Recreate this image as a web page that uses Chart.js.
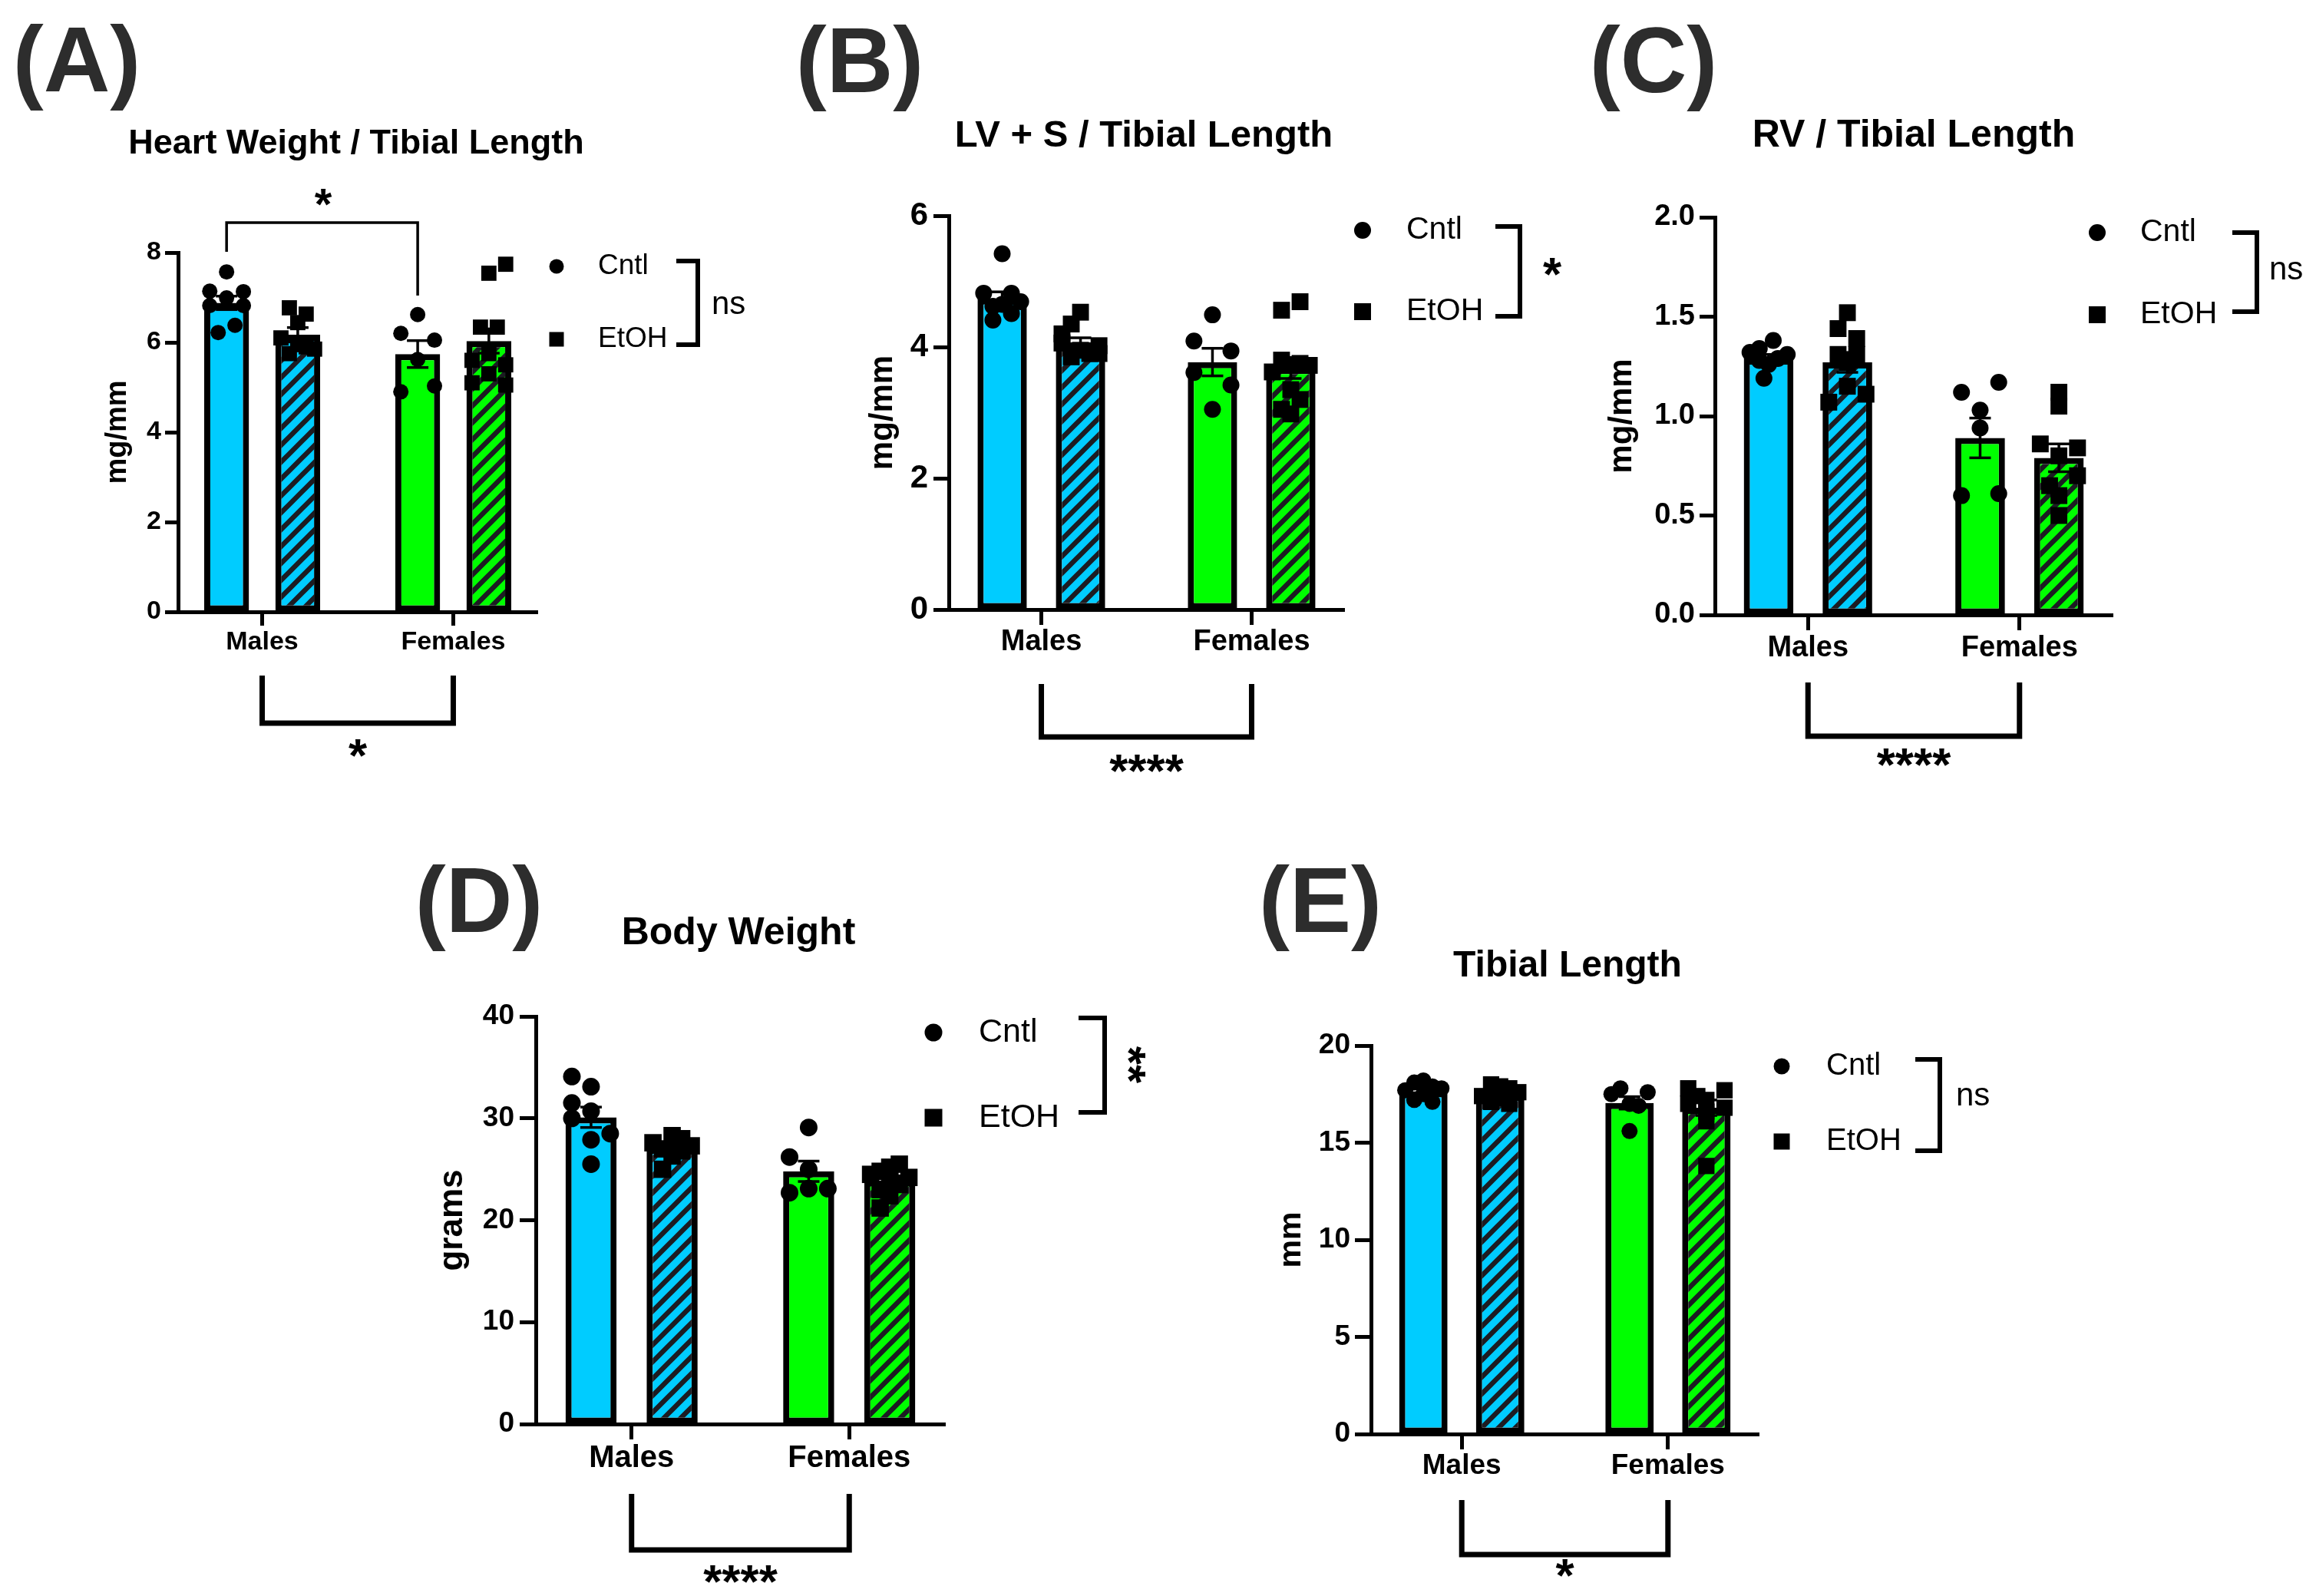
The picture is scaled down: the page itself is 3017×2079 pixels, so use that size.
<!DOCTYPE html>
<html>
<head>
<meta charset="utf-8">
<script src="https://cdn.jsdelivr.net/npm/chart.js@4.4.1/dist/chart.umd.min.js"></script>
<style>
    html, body { margin: 0; padding: 0; background: #fff; }
    body { width: 3017px; height: 2079px; position: relative; overflow: hidden; }
    canvas { position: absolute; }
</style>
</head>
<body>
<canvas id="panelA"></canvas>
<canvas id="panelB"></canvas>
<canvas id="panelC"></canvas>
<canvas id="panelD"></canvas>
<canvas id="panelE"></canvas>
<script>
// data --------------------------------------------------------------------------------------

const categories = ['Males', 'Females'];
const seriesNames = ['Cntl', 'EtOH'];

// (A) heart weight / tibial length, mg/mm
const hwTicks = [0, 2, 4, 6, 8];
const hwCntlMean = [6.88, 5.74];
const hwEtohMean = [6.17, 6.03];
const hwCntlSem = [0.15, 0.30];
const hwEtohSem = [0.16, 0.27];
const hwCntlPts = [[7.57, 7.14, 6.99, 7.13, 6.82, 6.82, 6.22, 6.38], [6.62, 6.20, 6.05, 5.62, 4.90, 5.03]];
const hwEtohPts = [[6.77, 6.63, 6.44, 6.10, 5.95, 5.85, 5.75, 5.90], [7.54, 7.74, 6.34, 6.34, 5.75, 5.60, 5.50, 5.30, 5.10, 5.05]];
// sideways spread of the dots (in dot steps)
const hwCntlJit = [[0, -2, 0, 2, -2, 2, -1, 1], [0, -2, 2, 0, -2, 2]];
const hwEtohJit = [[-1, 1, 0, -2, 0, 2, -1, 1], [0, 2, -1, 1, 0, -2, 2, 0, -2, 2]];

// (B) LV + S / tibial length, mg/mm
const lvTicks = [0, 2, 4, 6];
const lvCntlMean = [4.74, 3.77];
const lvEtohMean = [4.07, 3.68];
const lvCntlSem = [0.10, 0.21];
const lvEtohSem = [0.07, 0.16];
const lvCntlPts = [[5.42, 4.82, 4.82, 4.69, 4.62, 4.41, 4.51, 4.65], [4.49, 4.09, 3.94, 3.61, 3.42, 3.05]];
const lvEtohPts = [[4.53, 4.35, 4.20, 4.06, 4.02, 3.95, 3.90, 3.85, 3.90], [4.69, 4.56, 3.80, 3.75, 3.72, 3.62, 3.35, 3.20, 3.05, 2.98]];
const lvCntlJit = [[0, -2, 1, 2, -1, -1, 1, 0], [0, -2, 2, -2, 2, 0]];
const lvEtohJit = [[0, -1, -2, -2, 2, 0, 1, -1, 2], [1, -1, -1, 1, 2, -2, 0, 1, -1, 0]];

// (C) RV / tibial length, mg/mm
const rvTicks = [0, 0.5, 1.0, 1.5, 2.0];
const rvCntlMean = [1.29, 0.89];
const rvEtohMean = [1.27, 0.79];
const rvCntlSem = [0.02, 0.10];
const rvEtohSem = [0.05, 0.07];
const rvCntlPts = [[1.38, 1.34, 1.32, 1.31, 1.29, 1.28, 1.26, 1.19], [1.17, 1.12, 1.03, 0.94, 0.60, 0.61]];
const rvEtohPts = [[1.52, 1.44, 1.39, 1.31, 1.31, 1.27, 1.15, 1.11, 1.07], [1.12, 1.05, 0.86, 0.84, 0.80, 0.70, 0.65, 0.60, 0.50]];
const rvCntlJit = [[0.5, -1, -2, 2, 1, -1, 0, -0.5], [2, -2, 0, 0, -2, 2]];
const rvEtohJit = [[0, -1, 1, -1, 1, 0, 0, 2, -2], [0, 0, -2, 2, 0, 2, -1, 0, 0]];

// (D) body weight, grams
const bwTicks = [0, 10, 20, 30, 40];
const bwCntlMean = [30.1, 24.8];
const bwEtohMean = [27.1, 23.9];
const bwCntlSem = [1.0, 1.0];
const bwEtohSem = [0.4, 0.45];
const bwCntlPts = [[34.1, 33.1, 31.5, 30.7, 30.0, 28.5, 27.9, 25.5], [29.1, 26.2, 25.0, 22.7, 23.1, 23.1]];
const bwEtohPts = [[28.3, 28.0, 27.6, 27.3, 27.0, 26.8, 26.3, 25.0], [25.5, 25.2, 24.8, 24.5, 24.2, 23.9, 23.5, 23.0, 22.4, 21.2]];
const bwCntlJit = [[-2, 0, -2, 0, -2, 2, 0, 0], [0, -2, 0, -2, 0, 2]];
const bwEtohJit = [[0, 1, -2, 2, -1, 1, 0, -1], [1, 0, -1, -2, 2, 0, 1, -1, 0, -1]];

// (E) tibial length, mm
const tlTicks = [0, 5, 10, 15, 20];
const tlCntlMean = [17.65, 17.05];
const tlEtohMean = [17.45, 16.8];
const tlCntlSem = [0.14, 0.32];
const tlEtohSem = [0.12, 0.40];
const tlCntlPts = [[18.1, 18.2, 17.9, 17.8, 17.7, 17.5, 17.2, 17.1], [17.8, 17.5, 17.6, 17.0, 16.9, 15.6]];
const tlEtohPts = [[18.0, 17.9, 17.8, 17.6, 17.4, 17.3, 17.1, 17.0], [17.8, 17.7, 17.4, 17.2, 17.0, 16.8, 16.6, 16.1, 13.8]];
const tlCntlJit = [[-1, 0, 1, 2, -2, 0, -1, 1], [-1, -2, 2, 0, 1, 0]];
const tlEtohJit = [[-1, 0, 1, 2, -2, 0, -1, 1], [-2, 2, -1, 0, -2, 2, 0, 0, 0]];

// styles ----------------------------------------------------------------------------------

const FAM = '"Liberation Sans", Arial, Helvetica, sans-serif';
const BLUE = '#00CCFF';
const GREEN = '#00FF00';
const CAT_PCT = 0.745;
const BAR_PCT = 0.63;
const SHIFT = CAT_PCT / 4;   // bar centre offset from the group tick, in x units
const JIT = 0.044;           // one dot step, in x units

function stripes(color) {
    const t = 22;
    const c = document.createElement('canvas');
    c.width = t; c.height = t;
    const g = c.getContext('2d');
    g.fillStyle = color;
    g.fillRect(0, 0, t, t);
    g.strokeStyle = '#1c1c22';
    g.lineWidth = 6.5;
    g.beginPath();
    g.moveTo(-t / 2, t / 2); g.lineTo(t / 2, -t / 2);
    g.moveTo(0, t); g.lineTo(t, 0);
    g.moveTo(t / 2, t * 1.5); g.lineTo(t * 1.5, t / 2);
    g.stroke();
    return g.createPattern(c, 'repeat');
}
const BLUE_HATCH = stripes(BLUE);
const GREEN_HATCH = stripes(GREEN);

// panel layout (page pixels) --------------------------------------------------------------

const panels = [
    {
        id: 'panelA', letter: '(A)', title: 'Heart Weight / Tibial Length', yTitle: 'mg/mm',
        ticks: hwTicks, dec: 0,
        cntlMean: hwCntlMean, etohMean: hwEtohMean, cntlSem: hwCntlSem, etohSem: hwEtohSem,
        cntlPts: hwCntlPts, etohPts: hwEtohPts, cntlJit: hwCntlJit, etohJit: hwEtohJit,
        box: [0, 0, 1030, 1040], area: [232, 329, 700, 797],
        yTitleX: 154, yTitleSize: 38, tickSize: 34, yTick: 17, yPad: 5, catSize: 34, xTick: 18, xPad: 1,
        titleSize: 45, titleX: 464, titleY: 188, letterX: 100, letterY: 119,
        dot: 10, sq: 14,
        leg: { mx: 725, cy1: 347, cy2: 442, r: 9.5, side: 19, tx: 779, size: 37,
               bx0: 881, bx1: 909, by1: 340, by2: 449, stat: 'ns', sx: 927, sy: 397, star: false },
        bottom: { y1: 880, y2: 942, text: '*', y: 977 },
        top: { leftY: 328, rightY: 385, y: 290, starX: 421, starY: 260 }
    },
    {
        id: 'panelB', letter: '(B)', title: 'LV + S / Tibial Length', yTitle: 'mg/mm',
        ticks: lvTicks, dec: 0,
        cntlMean: lvCntlMean, etohMean: lvEtohMean, cntlSem: lvCntlSem, etohSem: lvEtohSem,
        cntlPts: lvCntlPts, etohPts: lvEtohPts, cntlJit: lvCntlJit, etohJit: lvEtohJit,
        box: [1030, 0, 1030, 1050], area: [1236, 281, 1751, 794],
        yTitleX: 1150, yTitleSize: 42, tickSize: 42, yTick: 20, yPad: 7, catSize: 38, xTick: 20, xPad: 0,
        titleSize: 49, titleX: 1490, titleY: 177, letterX: 1120, letterY: 120,
        dot: 11, sq: 15.5,
        leg: { mx: 1775, cy1: 300, cy2: 406, r: 11, side: 22, tx: 1832, size: 41,
               bx0: 1948, bx1: 1980, by1: 295, by2: 412, stat: '*', sx: 2022, sy: 350, star: true },
        bottom: { y1: 891, y2: 960, text: '****', y: 997 }
    },
    {
        id: 'panelC', letter: '(C)', title: 'RV / Tibial Length', yTitle: 'mg/mm',
        ticks: rvTicks, dec: 1,
        cntlMean: rvCntlMean, etohMean: rvEtohMean, cntlSem: rvCntlSem, etohSem: rvEtohSem,
        cntlPts: rvCntlPts, etohPts: rvEtohPts, cntlJit: rvCntlJit, etohJit: rvEtohJit,
        box: [2060, 0, 957, 1050], area: [2234, 283, 2752, 801],
        yTitleX: 2113, yTitleSize: 42, tickSize: 38, yTick: 20, yPad: 6, catSize: 38, xTick: 20, xPad: 1,
        titleSize: 50, titleX: 2493, titleY: 177, letterX: 2154, letterY: 120,
        dot: 11, sq: 15.5,
        leg: { mx: 2732, cy1: 303, cy2: 410, r: 11, side: 22, tx: 2788, size: 41,
               bx0: 2908, bx1: 2940, by1: 303, by2: 406, stat: 'ns', sx: 2956, sy: 352, star: false },
        bottom: { y1: 889, y2: 959, text: '****', y: 989 }
    },
    {
        id: 'panelD', letter: '(D)', title: 'Body Weight', yTitle: 'grams',
        ticks: bwTicks, dec: 0,
        cntlMean: bwCntlMean, etohMean: bwEtohMean, cntlSem: bwCntlSem, etohSem: bwEtohSem,
        cntlPts: bwCntlPts, etohPts: bwEtohPts, cntlJit: bwCntlJit, etohJit: bwEtohJit,
        box: [500, 1090, 1060, 989], area: [698, 1324, 1231, 1855],
        yTitleX: 590, yTitleSize: 44, tickSize: 37, yTick: 21, yPad: 7, catSize: 40, xTick: 20, xPad: 1,
        titleSize: 50, titleX: 962, titleY: 1216, letterX: 624, letterY: 1214,
        dot: 11.5, sq: 16,
        leg: { mx: 1216, cy1: 1345, cy2: 1456, r: 11.5, side: 23, tx: 1275, size: 43,
               bx0: 1405, bx1: 1439, by1: 1326, by2: 1449, stat: '**', sx: 1478, sy: 1387, star: true, rot: true },
        bottom: { y1: 1946, y2: 2019, text: '****', y: 2053 }
    },
    {
        id: 'panelE', letter: '(E)', title: 'Tibial Length', yTitle: 'mm',
        ticks: tlTicks, dec: 0,
        cntlMean: tlCntlMean, etohMean: tlEtohMean, cntlSem: tlCntlSem, etohSem: tlEtohSem,
        cntlPts: tlCntlPts, etohPts: tlEtohPts, cntlJit: tlCntlJit, etohJit: tlEtohJit,
        box: [1600, 1090, 1100, 989], area: [1786, 1362, 2291, 1868],
        yTitleX: 1683, yTitleSize: 41, tickSize: 37, yTick: 21, yPad: 6, catSize: 37, xTick: 20, xPad: 0,
        titleSize: 48, titleX: 2042, titleY: 1259, letterX: 1720, letterY: 1214,
        dot: 10.5, sq: 15,
        leg: { mx: 2321, cy1: 1389, cy2: 1487, r: 10.5, side: 21, tx: 2379, size: 40,
               bx0: 2495, bx1: 2527, by1: 1380, by2: 1499, stat: 'ns', sx: 2548, sy: 1428, star: false },
        bottom: { y1: 1954, y2: 2025, text: '*', y: 2045 }
    }
];

// helpers ---------------------------------------------------------------------------------

function dots(values, jitter, shift) {
    const out = [];
    values.forEach((group, g) => {
        group.forEach((v, k) => out.push({ x: g + shift + jitter[g][k] * JIT, y: v }));
    });
    return out;
}

function drawStars(ctx, text, cx, cy, size, rot) {
    ctx.save();
    ctx.translate(cx, cy);
    if (rot) ctx.rotate(Math.PI / 2);
    ctx.font = 'bold ' + size + 'px ' + FAM;
    ctx.textAlign = 'center';
    ctx.textBaseline = 'alphabetic';
    ctx.fillText(text, 0, size * 0.45);
    ctx.restore();
}

function line(ctx, pts, width) {
    ctx.beginPath();
    ctx.moveTo(pts[0][0], pts[0][1]);
    for (let i = 1; i < pts.length; i++) ctx.lineTo(pts[i][0], pts[i][1]);
    ctx.lineWidth = width;
    ctx.strokeStyle = '#000';
    ctx.lineCap = 'butt';
    ctx.lineJoin = 'miter';
    ctx.stroke();
}

// error bars, labels, legend and significance brackets
function extras(p) {
    const ox = p.box[0], oy = p.box[1];
    return {
        id: 'extras',
        afterDatasetsDraw(chart) {
            const ctx = chart.ctx;
            const y = chart.scales.y;
            [[p.cntlMean, p.cntlSem], [p.etohMean, p.etohSem]].forEach(([mean, sem], i) => {
                chart.getDatasetMeta(i).data.forEach((bar, j) => {
                    const top = y.getPixelForValue(mean[j] + sem[j]);
                    const bot = y.getPixelForValue(mean[j] - sem[j]);
                    line(ctx, [[bar.x, top], [bar.x, bot]], 3.5);
                    line(ctx, [[bar.x - 14, top], [bar.x + 14, top]], 3.5);
                    line(ctx, [[bar.x - 14, bot], [bar.x + 14, bot]], 3.5);
                });
            });
        },
        afterDraw(chart) {
            const ctx = chart.ctx;
            const x = chart.scales.x;
            ctx.save();
            ctx.fillStyle = '#2d2d2d';
            ctx.font = 'bold 120px ' + FAM;
            ctx.textAlign = 'center';
            ctx.textBaseline = 'alphabetic';
            ctx.fillText(p.letter, p.letterX - ox, p.letterY - oy);

            ctx.fillStyle = '#000';
            ctx.font = 'bold ' + p.titleSize + 'px ' + FAM;
            ctx.textBaseline = 'middle';
            ctx.fillText(p.title, p.titleX - ox, p.titleY - oy);

            // legend
            const L = p.leg;
            ctx.beginPath();
            ctx.arc(L.mx - ox, L.cy1 - oy, L.r, 0, Math.PI * 2);
            ctx.fill();
            ctx.fillRect(L.mx - ox - L.side / 2, L.cy2 - oy - L.side / 2, L.side, L.side);
            ctx.font = L.size + 'px ' + FAM;
            ctx.textAlign = 'left';
            ctx.fillText(seriesNames[0], L.tx - ox, L.cy1 - oy);
            ctx.fillText(seriesNames[1], L.tx - ox, L.cy2 - oy);
            line(ctx, [[L.bx0 - ox, L.by1 - oy], [L.bx1 - ox, L.by1 - oy],
                       [L.bx1 - ox, L.by2 - oy], [L.bx0 - ox, L.by2 - oy]], 6);
            if (L.star) {
                drawStars(ctx, L.stat, L.sx - ox, L.sy - oy, 62, L.rot);
            } else {
                ctx.font = '42px ' + FAM;
                ctx.textAlign = 'left';
                ctx.textBaseline = 'middle';
                ctx.fillText(L.stat, L.sx - ox, L.sy - oy);
            }

            // males vs females bracket under the axis
            const xm = x.getPixelForValue(0), xf = x.getPixelForValue(1);
            const B = p.bottom;
            line(ctx, [[xm, B.y1 - oy], [xm, B.y2 - oy], [xf, B.y2 - oy], [xf, B.y1 - oy]], 7);
            drawStars(ctx, B.text, (xm + xf) / 2, B.y - oy, 62, false);

            // control males vs control females bracket above the bars
            if (p.top) {
                const T = p.top;
                const a = x.getPixelForValue(-SHIFT), b = x.getPixelForValue(1 - SHIFT);
                line(ctx, [[a, T.leftY - oy], [a, T.y - oy], [b, T.y - oy], [b, T.rightY - oy]], 3.5);
                drawStars(ctx, '*', T.starX - ox, T.starY - oy, 58, false);
            }
            ctx.restore();
        }
    };
}

// charts ----------------------------------------------------------------------------------

panels.forEach(function (p) {
    const canvas = document.getElementById(p.id);
    const [bx, by, bw, bh] = p.box;
    const [aL, aT, aR, aB] = p.area;
    canvas.width = bw;
    canvas.height = bh;
    canvas.style.left = bx + 'px';
    canvas.style.top = by + 'px';

    const scaleLeft = p.yTitleX - p.yTitleSize * 1.2 / 2;
    const yWidth = aL - scaleLeft;
    const xHeight = 80;

    const data = {
        datasets: [
            {
                type: 'bar', label: seriesNames[0],
                data: categories.map((c, i) => ({ x: i, y: p.cntlMean[i] })),
                backgroundColor: [BLUE, GREEN],
                borderColor: '#000', borderWidth: 8, borderSkipped: false,
                categoryPercentage: CAT_PCT, barPercentage: BAR_PCT, order: 2
            },
            {
                type: 'bar', label: seriesNames[1],
                data: categories.map((c, i) => ({ x: i, y: p.etohMean[i] })),
                backgroundColor: [BLUE_HATCH, GREEN_HATCH],
                borderColor: '#000', borderWidth: 8, borderSkipped: false,
                categoryPercentage: CAT_PCT, barPercentage: BAR_PCT, order: 2
            },
            {
                type: 'scatter', label: seriesNames[0] + ' points',
                data: dots(p.cntlPts, p.cntlJit, -SHIFT),
                pointStyle: 'circle', pointRadius: p.dot, backgroundColor: '#000',
                borderWidth: 0, order: 0, clip: false
            },
            {
                type: 'scatter', label: seriesNames[1] + ' points',
                data: dots(p.etohPts, p.etohJit, SHIFT),
                pointStyle: 'rect', pointRadius: p.sq, backgroundColor: '#000',
                borderWidth: 0, order: 0, clip: false
            }
        ]
    };

    const config = {
        type: 'bar',
        data: data,
        options: {
            responsive: false,
            animation: false,
            devicePixelRatio: 1,
            events: [],
            layout: {
                padding: {
                    left: scaleLeft - bx,
                    top: aT - by,
                    right: bw - (aR - bx),
                    bottom: bh - xHeight - (aB - by)
                }
            },
            plugins: { legend: { display: false }, tooltip: { enabled: false }, title: { display: false } },
            scales: {
                x: {
                    type: 'linear', min: -0.44, max: 1.44, offset: false, bounds: 'data',
                    afterBuildTicks: (s) => { s.ticks = categories.map((c, i) => ({ value: i })); },
                    afterFit: (s) => { s.height = xHeight; },
                    ticks: {
                        callback: (v) => categories[v], color: '#000', padding: p.xPad,
                        autoSkip: false, maxRotation: 0,
                        font: { family: FAM, size: p.catSize, weight: 'bold' }
                    },
                    grid: { offset: false, drawOnChartArea: false, drawTicks: true, tickLength: p.xTick, tickWidth: 5, tickColor: '#000' },
                    border: { display: true, color: '#000', width: 5 }
                },
                y: {
                    min: 0, max: p.ticks[p.ticks.length - 1],
                    afterBuildTicks: (s) => { s.ticks = p.ticks.map((v) => ({ value: v })); },
                    afterFit: (s) => { s.width = yWidth; },
                    ticks: {
                        callback: (v) => v.toFixed(p.dec), color: '#000', padding: p.yPad,
                        font: { family: FAM, size: p.tickSize, weight: 'bold' }
                    },
                    grid: { drawOnChartArea: false, drawTicks: true, tickLength: p.yTick, tickWidth: 5, tickColor: '#000' },
                    border: { display: true, color: '#000', width: 5 },
                    title: {
                        display: true, text: p.yTitle, color: '#000', padding: 0,
                        font: { family: FAM, size: p.yTitleSize, weight: 'bold' }
                    }
                }
            }
        },
        plugins: [extras(p)]
    };
    new Chart(canvas.getContext('2d'), config);
});
</script>
</body>
</html>
